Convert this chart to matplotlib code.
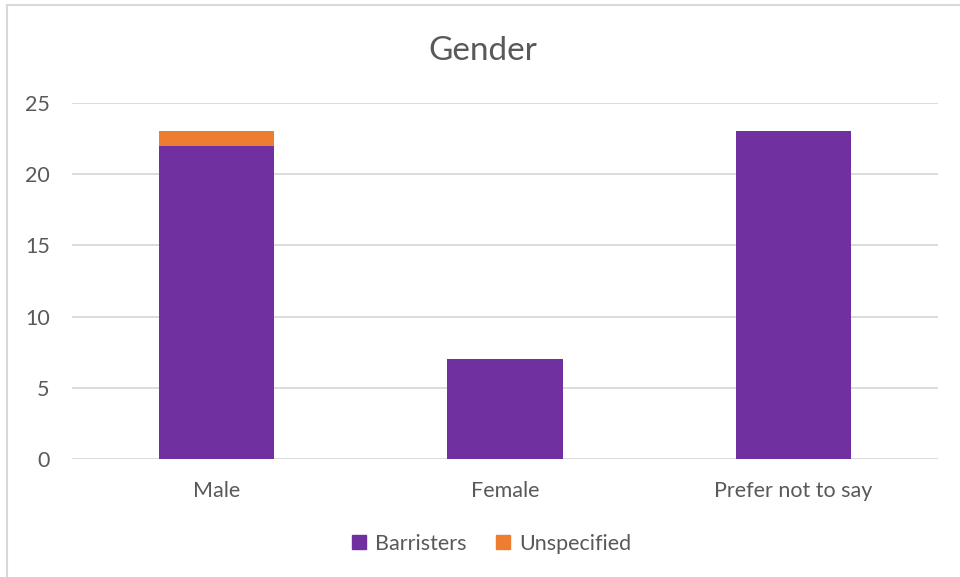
import matplotlib
matplotlib.use("Agg")
import matplotlib.pyplot as plt
from matplotlib.lines import Line2D
import numpy as np

plt.rcParams['font.family'] = ['Lato', 'DejaVu Sans']

categories = ["Male", "Female", "Prefer not to say"]
barristers = [22, 7, 23]
unspecified = [1, 0, 0]
series_names = ["Barristers", "Unspecified"]
colors = ["#7030A0", "#ED7D31"]
text_col = "#595959"
grid_col = "#D9D9D9"

fig = plt.figure(figsize=(9.6, 5.77), dpi=100)
ax = fig.add_axes([0.075, 0.2045, 0.902, 0.617])

x = np.arange(len(categories))
ax.bar(x, barristers, width=0.4, color=colors[0], zorder=3)
ax.bar(x, unspecified, width=0.4, bottom=barristers, color=colors[1], zorder=3)

ax.set_xlim(-0.5, 2.5)
ax.set_ylim(0, 25)
ax.set_yticks([0, 5, 10, 15, 20, 25])
ax.set_xticks(x)
ax.set_xticklabels(categories)
ax.yaxis.grid(True, color=grid_col, linewidth=1.3, zorder=0)
for s in ax.spines.values():
    s.set_visible(False)
ax.tick_params(length=0, colors=text_col, labelsize=15.5)
ax.tick_params(axis='y', pad=16)
ax.tick_params(axis='x', pad=16)

fig.text(0.503, 0.912, "Gender", ha='center', va='center', fontsize=24, color=text_col)

handles = [plt.Rectangle((0, 0), 1, 1, color=c) for c in colors]
fig.legend(handles, series_names, loc='center', bbox_to_anchor=(0.512, 0.058), ncol=2,
           frameon=False, fontsize=15.5, labelcolor=text_col, handlelength=0.65,
           handleheight=0.65, handletextpad=0.4, columnspacing=1.4)

# chart frame (left and top edges visible)
fig.add_artist(Line2D([0.0075, 0.0075], [0, 0.991], color="#D9D9D9", linewidth=1.5))
fig.add_artist(Line2D([0.0075, 1.0], [0.991, 0.991], color="#D9D9D9", linewidth=1.5))

fig.savefig("out.png", dpi=100, facecolor="white")
